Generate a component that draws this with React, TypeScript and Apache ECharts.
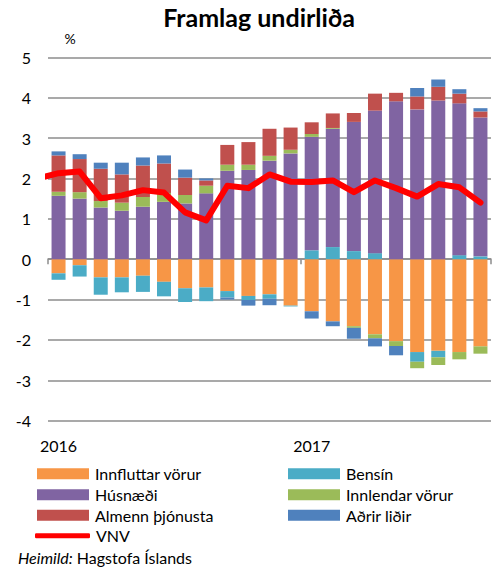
import React, { useEffect, useRef } from "react";
import * as echarts from "echarts";

// Months Jan 2016 – Sep 2017
const months: string[] = [
  "2016-01", "2016-02", "2016-03", "2016-04", "2016-05", "2016-06", "2016-07", "2016-08", "2016-09", "2016-10", "2016-11", "2016-12",
  "2017-01", "2017-02", "2017-03", "2017-04", "2017-05", "2017-06", "2017-07", "2017-08", "2017-09",
];

const innfluttar: number[] = [-0.35, -0.15, -0.45, -0.45, -0.41, -0.56, -0.72, -0.70, -0.79, -0.91, -0.87, -1.15, -1.29, -1.54, -1.66, -1.86, -2.03, -2.30, -2.27, -2.30, -2.16];
const bensin: number[] = [-0.16, -0.28, -0.43, -0.37, -0.40, -0.36, -0.34, -0.34, -0.16, -0.10, -0.11, -0.02, 0.22, 0.30, 0.20, 0.15, 0, -0.24, -0.16, 0.10, 0.07];
const husnaedi: number[] = [1.57, 1.50, 1.28, 1.20, 1.30, 1.42, 1.38, 1.63, 2.19, 2.21, 2.44, 2.62, 2.81, 2.93, 3.20, 3.53, 3.91, 3.71, 3.93, 3.76, 3.44];
const innlendar: number[] = [0.10, 0.16, 0.16, 0.20, 0.24, 0.22, 0.21, 0.19, 0.15, 0.13, 0.12, 0.09, 0.07, 0.02, -0.04, -0.10, -0.12, -0.16, -0.19, -0.18, -0.18];
const almenn: number[] = [0.90, 0.82, 0.80, 0.70, 0.78, 0.73, 0.43, 0.13, 0.49, 0.56, 0.67, 0.55, 0.29, 0.36, 0.22, 0.42, 0.21, 0.32, 0.34, 0.24, 0.15];
const adrir: number[] = [0.10, 0.12, 0.15, 0.29, 0.20, 0.20, 0.20, 0.05, -0.05, -0.14, -0.16, 0, -0.18, -0.12, -0.27, -0.20, -0.23, 0.21, 0.18, 0.11, 0.08];
const vnv: number[] = [2.13, 2.17, 1.51, 1.58, 1.71, 1.65, 1.16, 0.96, 1.82, 1.76, 2.10, 1.92, 1.91, 1.95, 1.66, 1.95, 1.76, 1.55, 1.86, 1.78, 1.40];
const vnvDec2015 = 2.0;

const yTicks = { min: -4, max: 5, interval: 1 };

const FONT = "Lato, 'Open Sans', sans-serif";
const GRID_COLOR = "#8c8c8c";

const barSeries = [
  { name: "Innfluttar vörur", data: innfluttar, color: "#F79646" },
  { name: "Bensín", data: bensin, color: "#4BACC6" },
  { name: "Húsnæði", data: husnaedi, color: "#8064A2" },
  { name: "Innlendar vörur", data: innlendar, color: "#9BBB59" },
  { name: "Almenn þjónusta", data: almenn, color: "#C0504D" },
  { name: "Aðrir liðir", data: adrir, color: "#4F81BD" },
];

export default function App() {
  const ref = useRef<HTMLDivElement>(null);

  useEffect(() => {
    if (!ref.current) return;
    const chart = echarts.init(ref.current, undefined, { renderer: "svg" });

    const legendItem = (name: string, left: number, centerY: number, icon = "rect", w = 52, h = 11) => ({
      show: true,
      left,
      top: centerY - 8,
      padding: 0,
      orient: "horizontal",
      icon,
      itemWidth: w,
      itemHeight: h,
      selectedMode: false,
      data: [name],
      textStyle: { fontFamily: FONT, fontSize: 16, lineHeight: 16, color: "#000", padding: [0, 0, 0, 1] },
    });

    const option: any = {
      animation: false,
      textStyle: { fontFamily: FONT },
      grid: { left: 48, top: 57.3, width: 443, height: 363.4, containLabel: false },
      xAxis: [
        {
          type: "category",
          data: months,
          position: "bottom",
          axisLine: { show: false, onZero: false },
          axisTick: { show: false },
          axisLabel: {
            interval: (i: number) => i % 12 === 0,
            formatter: (v: string) => v.slice(0, 4),
            fontFamily: FONT,
            fontSize: 16,
            color: "#000",
            margin: 17,
          },
          splitLine: { show: false },
        },
        {
          type: "category",
          data: months,
          position: "bottom",
          axisLine: { show: true, onZero: true, lineStyle: { color: GRID_COLOR, width: 1.5 } },
          axisTick: { show: true, length: 5, interval: (i: number) => i % 12 === 0, lineStyle: { color: GRID_COLOR, width: 1.5 } },
          axisLabel: { show: false },
          splitLine: { show: false },
        },
        {
          type: "value",
          min: -0.5,
          max: months.length - 0.5,
          show: false,
        },
      ],
      yAxis: {
        type: "value",
        min: yTicks.min,
        max: yTicks.max,
        interval: yTicks.interval,
        axisLine: { show: false },
        axisTick: { show: false },
        axisLabel: { fontFamily: FONT, fontSize: 16, color: "#000", margin: 17 },
        splitLine: { show: true, lineStyle: { color: GRID_COLOR, width: 1.5 } },
      },
      legend: [
        legendItem("Innfluttar vörur", 37, 473.7),
        legendItem("Húsnæði", 37, 494.7),
        legendItem("Almenn þjónusta", 37, 515.3),
        legendItem("VNV", 35, 535.8, "roundRect", 55, 5),
        legendItem("Bensín", 288, 473.7),
        legendItem("Innlendar vörur", 288, 494.7),
        legendItem("Aðrir liðir", 288, 515.3),
      ],
      graphic: [
        {
          type: "text",
          x: 259,
          y: 17,
          style: {
            text: "Framlag undirliða",
            fontFamily: FONT,
            fontWeight: "bold",
            fontSize: 25,
            fill: "#000",
            textAlign: "center",
            textVerticalAlign: "middle",
          },
        },
        {
          type: "text",
          x: 70,
          y: 38,
          style: { text: "%", fontFamily: FONT, fontSize: 14, fill: "#000", textAlign: "center", textVerticalAlign: "middle" },
        },
        {
          type: "text",
          x: 18,
          y: 557,
          style: {
            text: "{i|Heimild:} Hagstofa Íslands",
            fontFamily: FONT,
            fontSize: 16,
            fill: "#000",
            textVerticalAlign: "middle",
            rich: { i: { fontStyle: "italic", fontFamily: FONT, fontSize: 16, fill: "#000" } },
          },
        },
      ],
      series: [
        ...barSeries.map((s) => ({
          name: s.name,
          type: "bar",
          stack: "total",
          xAxisIndex: 0,
          yAxisIndex: 0,
          barWidth: 14,
          data: s.data,
          itemStyle: { color: s.color },
        })),
        {
          name: "VNV",
          type: "line",
          xAxisIndex: 2,
          yAxisIndex: 0,
          clip: true,
          symbol: "none",
          data: [[-1, vnvDec2015], ...vnv.map((v, i) => [i, v])],
          itemStyle: { color: "#FF0000" },
          lineStyle: { color: "#FF0000", width: 6, cap: "round", join: "round" },
          z: 5,
        },
      ],
    };

    chart.setOption(option);
    return () => chart.dispose();
  }, []);

  return (
    <div
      ref={ref}
      style={{ position: "fixed", left: 0, top: 0, width: 492, height: 567, background: "#fff" }}
    />
  );
}
